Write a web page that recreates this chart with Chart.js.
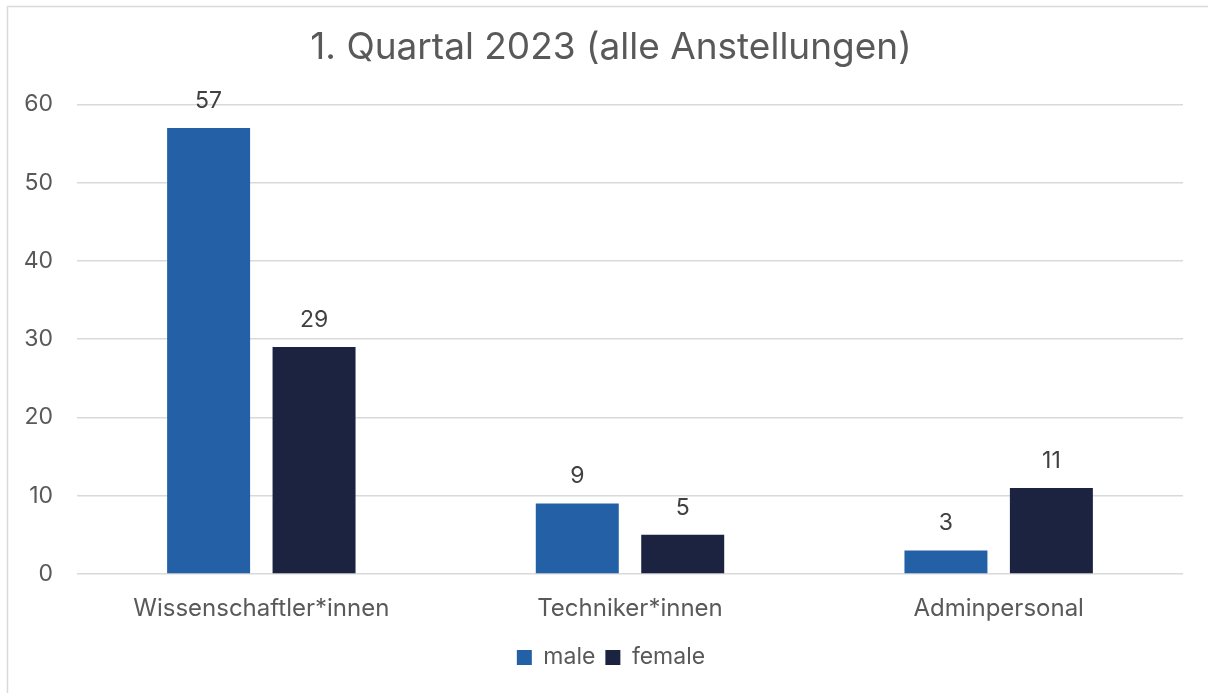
<!DOCTYPE html>
<html>
<head>
<meta charset="utf-8">
<script src="https://cdn.jsdelivr.net/npm/chart.js@4"></script>
<style>
  body { margin: 0; background: #fff; }
  #wrap { width: 1208px; height: 693px; position: relative; }
</style>
</head>
<body>
<div id="wrap"><canvas id="grafico" width="1208" height="693"></canvas></div>
<script>
// Datos del gráfico
const categorias = ['Wissenschaftler*innen', 'Techniker*innen', 'Adminpersonal'];
const valoresMale = [57, 9, 3];
const valoresFemale = [29, 5, 11];
const ticksY = [0, 10, 20, 30, 40, 50, 60];

const colorMale = '#2360a5';
const colorFemale = '#1b2340';

// Plugin para el marco y las etiquetas de valores
const marcoYEtiquetas = {
    id: 'marcoYEtiquetas',
    beforeDraw(chart) {
        const c = chart.ctx;
        c.save();
        c.fillStyle = '#fff';
        c.fillRect(0, 0, chart.width, chart.height);
        c.strokeStyle = '#d9d9d9';
        c.lineWidth = 1.5;
        c.strokeRect(7.5, 6.5, 1400, 1400);
        c.restore();
    },
    afterDatasetsDraw(chart) {
        const c = chart.ctx;
        c.save();
        c.font = '23px Inter';
        c.fillStyle = '#404040';
        c.textAlign = 'center';
        c.textBaseline = 'middle';
        chart.data.datasets.forEach((ds, i) => {
            chart.getDatasetMeta(i).data.forEach((bar, j) => {
                c.fillText(ds.data[j], bar.x, bar.y - 27);
            });
        });
        c.restore();
    }
};

const ctx = document.getElementById('grafico').getContext('2d');
new Chart(ctx, {
    type: 'bar',
    data: {
        labels: categorias,
        datasets: [
            { label: 'male', data: valoresMale, backgroundColor: colorMale },
            { label: 'female', data: valoresFemale, backgroundColor: colorFemale }
        ]
    },
    options: {
        responsive: false,
        animation: false,
        devicePixelRatio: 1,
        categoryPercentage: 0.572,
        barPercentage: 0.787,
        layout: { padding: { left: 14, right: 0, top: 26, bottom: 14 } },
        plugins: {
            title: {
                display: true,
                text: '1. Quartal 2023 (alle Anstellungen)',
                color: '#595959',
                font: { family: 'Inter', size: 37, weight: 'normal' },
                padding: { top: 0, bottom: 34 }
            },
            legend: {
                position: 'bottom',
                labels: {
                    color: '#595959',
                    font: { family: 'Inter', size: 23 },
                    boxWidth: 15,
                    boxHeight: 15,
                    padding: 10
                }
            },
            tooltip: { enabled: false }
        },
        scales: {
            x: {
                grid: { display: false },
                border: { display: false },
                afterFit(scale) { scale.height = 62; },
                ticks: { color: '#595959', font: { family: 'Inter', size: 24 }, padding: 12 }
            },
            y: {
                min: 0,
                max: 60,
                afterFit(scale) { scale.width = 63; },
                afterBuildTicks(scale) { scale.ticks = ticksY.map(v => ({ value: v })); },
                grid: { color: '#d9d9d9', lineWidth: 1.5, drawTicks: false },
                border: { display: false },
                ticks: { color: '#595959', font: { family: 'Inter', size: 23 }, padding: 24 }
            },
            // eje vacío a la derecha, solo para dejar margen
            derecha: {
                position: 'right',
                grid: { display: false },
                border: { display: false },
                ticks: { display: false },
                afterFit(scale) { scale.width = 25; }
            }
        }
    },
    plugins: [marcoYEtiquetas]
});
</script>
</body>
</html>
